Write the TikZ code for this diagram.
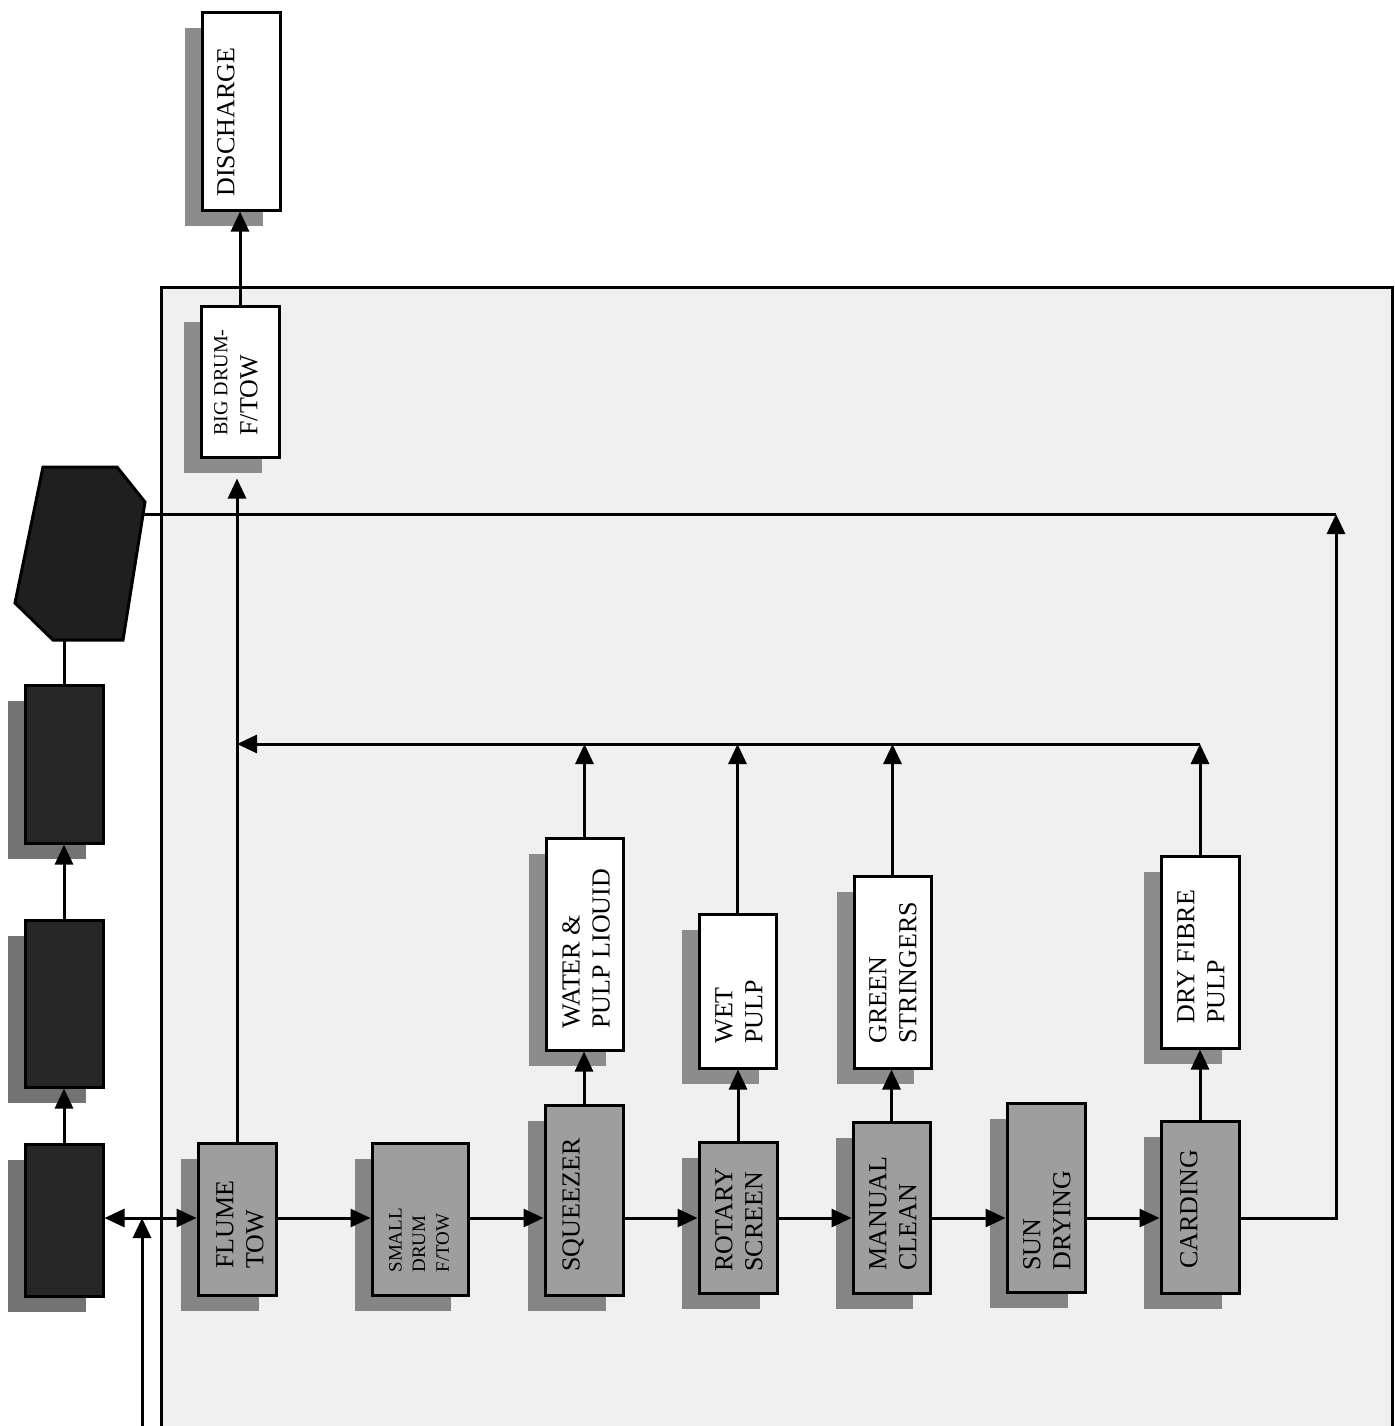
\documentclass[tikz,border=0pt]{standalone}
\usepackage{fontspec}
\setmainfont{Liberation Serif}
\usetikzlibrary{arrows.meta,shadows,calc}
\begin{document}
\begin{tikzpicture}[x=0.5pt,y=-0.5pt,line width=1.5pt,
  arr/.style={-{Triangle[length=10pt,width=9pt]}},
  darr/.style={{Triangle[length=10pt,width=9pt]}-{Triangle[length=10pt,width=9pt]}},
  shad/.style={drop shadow={shadow xshift=-8.5pt,shadow yshift=-8pt,fill=#1,opacity=1}},
  wbox/.style={draw,fill=white,inner sep=0,shad=black!45},
  gbox/.style={draw,fill=black!38,inner sep=0,shad=black!48},
  kbox/.style={draw,fill=black!85,inner sep=0,shad=black!55},
  tx/.style={rotate=90,inner sep=0,align=left,anchor=west,font=\fontsize{13}{15}\selectfont},
  txs/.style={rotate=90,inner sep=0,align=left,anchor=west,font=\fontsize{9.5}{11.8}\selectfont}]
\useasboundingbox (0,0) rectangle (1395,1426);
% stippled field
\fill[black!6] (161,287) rectangle (1392,1426);
\draw (161,1426) -- (161,287) -- (1392,287) -- (1392,1426);
% coordinates for flow lines
\coordinate (fy) at (0,1218);
\coordinate (cy) at (0,744);
% left column
\node[kbox,minimum width=39pt,minimum height=76pt] (ka) at (64,1220) {};
\node[kbox,minimum width=39pt,minimum height=83.5pt] (kb) at (64,1003.5) {};
\node[kbox,minimum width=39pt,minimum height=79pt] (kc) at (64,764) {};
\draw[fill=black!88] (43,467) -- (117,467) -- (145,502) -- (123,640) -- (53,640) -- (15,603) -- cycle;
\coordinate (hexS) at (64,640);
\coordinate (hexE) at (143,514);
% top boxes
\node[wbox,minimum width=39pt,minimum height=99pt] (dis) at (241,111) {};
\node[tx] (tdis) at (226,198) {DISCHARGE};
\node[wbox,minimum width=39pt,minimum height=75.5pt] (big) at (240,381.5) {};
\node[tx] (tbig) at (236,437) {{\fontsize{10}{12.5}\selectfont BIG DRUM-}\\F/TOW};
% process row
\node[gbox,minimum width=39pt,minimum height=76pt] (flume) at (237,1219) {};
\node[tx] (tflume) at (240,1270) {FLUME\\TOW};
\node[gbox,minimum width=48pt,minimum height=76pt] (drum) at (420,1219) {};
\node[txs] (tdrum) at (419,1274) {SMALL\\DRUM\\F/TOW};
\node[gbox,minimum width=39pt,minimum height=95pt] (sq) at (584,1200) {};
\node[tx] (tsq) at (573,1273) {SQUEEZER};
\node[gbox,minimum width=39pt,minimum height=75.5pt] (rot) at (738,1217.5) {};
\node[tx] (trot) at (739,1273) {ROTARY\\SCREEN};
\node[gbox,minimum width=38.5pt,minimum height=85.5pt] (man) at (891.5,1207.5) {};
\node[tx] (tman) at (893,1272) {MANUAL\\CLEAN};
\node[gbox,minimum width=39pt,minimum height=94.5pt] (sun) at (1046,1197.5) {};
\node[tx] (tsun) at (1047,1272) {SUN\\DRYING};
\node[gbox,minimum width=39pt,minimum height=86pt] (card) at (1200,1207) {};
\node[tx] (tcard) at (1189,1270) {CARDING};
% output boxes
\node[wbox,minimum width=38.5pt,minimum height=106pt] (water) at (584.5,944) {};
\node[tx] (twater) at (586,1030) {WATER \&\\PULP LIOUID};
\node[wbox,minimum width=38.5pt,minimum height=77pt] (wet) at (737.5,991) {};
\node[tx] (twet) at (739,1045) {WET\\PULP};
\node[wbox,minimum width=38.5pt,minimum height=96pt] (green) at (892.5,972) {};
\node[tx] (tgreen) at (893,1045) {GREEN\\STRINGERS};
\node[wbox,minimum width=39pt,minimum height=96pt] (dry) at (1200,952) {};
\node[tx] (tdry) at (1201,1025) {DRY FIBRE\\PULP};
% connectors: left column
\draw[arr] (ka.north) -- (kb.south);
\draw[arr] (kb.north) -- (kc.south);
\draw (kc.north) -- (hexS);
\coordinate (jn) at (142,1218);
\coordinate (bot) at (142,1426);
\draw[arr] (bot) -- (jn);
\draw[darr] (ka.east |- fy) -- (flume.west |- fy);
% process flow
\draw[arr] (flume.east |- fy) -- (drum.west |- fy);
\draw[arr] (drum.east |- fy) -- (sq.west |- fy);
\draw[arr] (sq.east |- fy) -- (rot.west |- fy);
\draw[arr] (rot.east |- fy) -- (man.west |- fy);
\draw[arr] (man.east |- fy) -- (sun.west |- fy);
\draw[arr] (sun.east |- fy) -- (card.west |- fy);
% return to hexagon
\coordinate (corner) at (1336,514);
\draw[arr] (card.east |- fy) -| (corner);
\draw (corner) -- (hexE);
% outputs
\draw[arr] (sq.north) -- (sq.north |- water.south);
\draw[arr] (rot.north) -- (rot.north |- wet.south);
\draw[arr] (man.north) -- (man.north |- green.south);
\draw[arr] (card.north) -- (card.north |- dry.south);
\draw[arr] (water.north) -- (water.north |- cy);
\draw[arr] (wet.north) -- (wet.north |- cy);
\draw[arr] (green.north) -- (green.north |- cy);
\draw[arr] (dry.north) -- (dry.north |- cy);
\draw[arr] (dry.north |- cy) -- (flume.north |- cy);
\draw[arr,shorten >=10pt] (flume.north) -- (flume.north |- big.south);
\draw[arr] (big.north) -- (big.north |- dis.south);
\end{tikzpicture}
\end{document}
